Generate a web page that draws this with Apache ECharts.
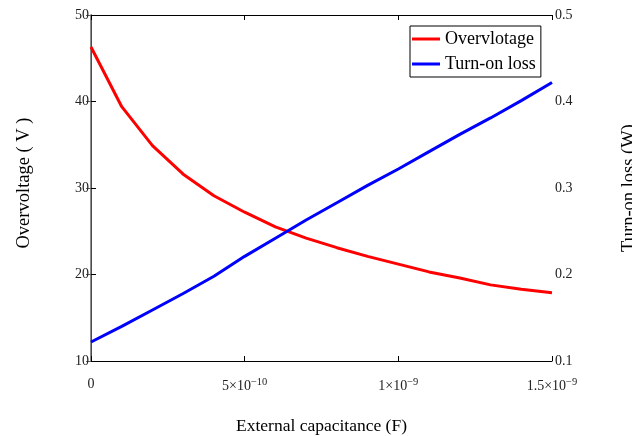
<!DOCTYPE html>
<html>
<head>
<meta charset="utf-8">
<script src="https://cdn.jsdelivr.net/npm/echarts@6/dist/echarts.min.js"></script>
<style>
html, body { margin: 0; padding: 0; background: #fff; }
#chart { width: 632px; height: 436px; }
</style>
</head>
<body>
<div id="chart"></div>
<script>
var myChart = echarts.init(document.getElementById('chart'));

// external capacitance (F)
var capacitance = [0, 1e-10, 2e-10, 3e-10, 4e-10, 5e-10, 6e-10, 7e-10, 8e-10, 9e-10,
	1e-9, 1.1e-9, 1.2e-9, 1.3e-9, 1.4e-9, 1.5e-9];
// overvoltage (V)
var overvoltage = [46.3, 39.4, 34.9, 31.6, 29.1, 27.2, 25.5, 24.2, 23.1, 22.1,
	21.2, 20.3, 19.6, 18.8, 18.3, 17.9];
// turn-on loss (W)
var turnOnLoss = [0.122, 0.140, 0.159, 0.178, 0.198, 0.221, 0.242, 0.263, 0.283, 0.303,
	0.322, 0.342, 0.362, 0.381, 0.401, 0.422];

// x tick labels: base + superscript exponent
var xTickBase = ['0', '5×10', '1×10', '1.5×10'];
var xTickExp = ['', '−10', '−9', '−9'];

var font = '"Liberation Serif", "Times New Roman", serif';

function pairs(ys) {
	return capacitance.map(function (x, i) { return [x, ys[i]]; });
}

myChart.setOption({
	animation: false,
	textStyle: { fontFamily: font },
	grid: { left: 91, right: 80, top: 15, bottom: 75, outerBoundsMode: 'none', containLabel: false },
	legend: {
		left: 410,
		top: 26,
		orient: 'vertical',
		icon: 'rect',
		itemWidth: 28,
		itemHeight: 3,
		itemGap: 7,
		padding: [4, 5, 4, 2],
		borderColor: '#000',
		borderWidth: 1,
		backgroundColor: '#fff',
		textStyle: { fontFamily: font, fontSize: 18, color: '#000' },
		data: ['Overvlotage', 'Turn-on loss']
	},
	xAxis: [{
		type: 'value',
		min: 0,
		max: 1.5e-9,
		interval: 5e-10,
		name: 'External capacitance (F)',
		nameLocation: 'middle',
		nameGap: 56,
		nameTextStyle: { fontFamily: font, fontSize: 17.5, color: '#000' },
		axisLine: { lineStyle: { color: '#000', width: 1 } },
		axisTick: { inside: true, length: 5, lineStyle: { color: '#000' } },
		splitLine: { show: false },
		axisLabel: {
			margin: 16,
			formatter: function (v) {
				var i = Math.round(v / 5e-10);
				if (!xTickExp[i]) return '{b|' + xTickBase[i] + '}';
				return '{b|' + xTickBase[i] + '}{s|' + xTickExp[i] + '}';
			},
			rich: {
				b: { fontFamily: font, fontSize: 14, color: '#222' },
				s: { fontFamily: font, fontSize: 10.5, color: '#222', padding: [0, 0, 8, 0] }
			}
		}
	}, {
		type: 'value',
		position: 'top',
		min: 0,
		max: 1.5e-9,
		interval: 5e-10,
		axisLine: { show: true, lineStyle: { color: '#000', width: 1 } },
		axisTick: { show: true, inside: true, length: 5, lineStyle: { color: '#000' } },
		axisLabel: { show: false },
		splitLine: { show: false }
	}],
	yAxis: [{
		type: 'value',
		min: 10,
		max: 50,
		interval: 10,
		name: 'Overvoltage ( V )',
		nameLocation: 'middle',
		nameRotate: 90,
		nameGap: 57,
		nameTextStyle: { fontFamily: font, fontSize: 18.5, color: '#000', padding: [0, 0, 0, 10] },
		axisLine: { show: true, lineStyle: { color: '#000', width: 1 } },
		axisTick: { show: true, inside: true, length: 5, lineStyle: { color: '#000' } },
		axisLabel: { margin: 2, fontFamily: font, fontSize: 14, color: '#222' },
		splitLine: { show: false }
	}, {
		type: 'value',
		position: 'right',
		min: 0.1,
		max: 0.5,
		interval: 0.1,
		name: 'Turn-on loss (W)',
		nameLocation: 'middle',
		nameRotate: 90,
		nameGap: 68,
		nameTextStyle: { fontFamily: font, fontSize: 18.5, color: '#000' },
		axisLine: { show: true, lineStyle: { color: '#666', width: 1.5 } },
		axisTick: { show: true, inside: true, length: 5, lineStyle: { color: '#666' } },
		axisLabel: { margin: 3, fontFamily: font, fontSize: 14, color: '#222',
			formatter: function (v) { return v.toFixed(1); } },
		splitLine: { show: false }
	}],
	series: [{
		name: 'Overvlotage',
		type: 'line',
		yAxisIndex: 0,
		symbol: 'none',
		itemStyle: { color: '#ff0000' },
		lineStyle: { color: '#ff0000', width: 3 },
		data: pairs(overvoltage)
	}, {
		name: 'Turn-on loss',
		type: 'line',
		yAxisIndex: 1,
		symbol: 'none',
		itemStyle: { color: '#0000ff' },
		lineStyle: { color: '#0000ff', width: 3 },
		data: pairs(turnOnLoss)
	}]
});
</script>
</body>
</html>
